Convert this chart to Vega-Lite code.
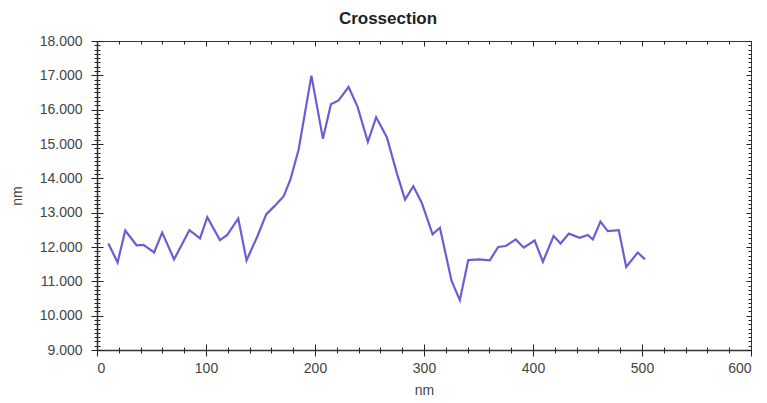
{
  "$schema": "https://vega.github.io/schema/vega-lite/v6.json",
  "autosize": "none",
  "width": 654,
  "height": 309,
  "padding": {"left": 97, "top": 41, "right": 16, "bottom": 53},
  "background": "white",
  "title": {"text": "Crossection", "font": "Liberation Sans", "fontSize": 17, "fontWeight": "bold", "color": "#222", "offset": 6, "dx": -36},
  "config": {
    "view": {"stroke": null},
    "axis": {"labelFont": "Liberation Sans", "titleFont": "Liberation Sans", "labelFontSize": 14, "titleFontSize": 14, "titleFontWeight": "normal", "labelColor": "#444", "titleColor": "#444", "domainColor": "#333", "tickColor": "#222", "grid": false}
  },
  "data": {"values": [
    {"x": 10.4, "y": 12.10}, {"x": 18.9, "y": 11.55}, {"x": 25.9, "y": 12.48}, {"x": 36.3, "y": 12.05},
    {"x": 42.7, "y": 12.06}, {"x": 52.4, "y": 11.84}, {"x": 59.8, "y": 12.42}, {"x": 70.7, "y": 11.64},
    {"x": 84.8, "y": 12.49}, {"x": 94.5, "y": 12.25}, {"x": 101.2, "y": 12.87}, {"x": 112.8, "y": 12.20},
    {"x": 119.5, "y": 12.35}, {"x": 129.6, "y": 12.83}, {"x": 137.2, "y": 11.61}, {"x": 147.0, "y": 12.30},
    {"x": 155.2, "y": 12.95}, {"x": 162.8, "y": 13.19}, {"x": 171.3, "y": 13.48}, {"x": 177.4, "y": 13.96},
    {"x": 185.0, "y": 14.84}, {"x": 196.7, "y": 16.99}, {"x": 207.3, "y": 15.15}, {"x": 214.6, "y": 16.16},
    {"x": 221.6, "y": 16.27}, {"x": 230.8, "y": 16.66}, {"x": 239.0, "y": 16.09}, {"x": 248.5, "y": 15.06},
    {"x": 256.1, "y": 15.78}, {"x": 265.9, "y": 15.20}, {"x": 275.0, "y": 14.16}, {"x": 282.6, "y": 13.38},
    {"x": 290.2, "y": 13.77}, {"x": 297.9, "y": 13.29}, {"x": 307.9, "y": 12.37}, {"x": 314.6, "y": 12.56},
    {"x": 325.3, "y": 11.01}, {"x": 332.9, "y": 10.45}, {"x": 340.6, "y": 11.62}, {"x": 350.6, "y": 11.64},
    {"x": 360.4, "y": 11.61}, {"x": 368.0, "y": 12.00}, {"x": 375.0, "y": 12.03}, {"x": 384.2, "y": 12.22},
    {"x": 391.5, "y": 11.98}, {"x": 401.5, "y": 12.19}, {"x": 409.1, "y": 11.57}, {"x": 418.9, "y": 12.32},
    {"x": 425.3, "y": 12.10}, {"x": 432.9, "y": 12.39}, {"x": 442.7, "y": 12.27}, {"x": 450.3, "y": 12.35},
    {"x": 454.9, "y": 12.22}, {"x": 461.9, "y": 12.74}, {"x": 468.6, "y": 12.46}, {"x": 478.7, "y": 12.49},
    {"x": 485.5, "y": 11.42}, {"x": 496.1, "y": 11.84}, {"x": 502.8, "y": 11.64}
  ]},
  "resolve": {"axis": {"x": "independent", "y": "independent"}},
  "layer": [
    {
      "mark": {"type": "line", "opacity": 0},
      "encoding": {
        "x": {"field": "x", "type": "quantitative", "scale": {"domain": [0, 600], "nice": false}, "axis": {"orient": "bottom", "values": [0,20,40,60,80,100,120,140,160,180,200,220,240,260,280,300,320,340,360,380,400,420,440,460,480,500,520,540,560,580,600], "labels": false, "domain": false, "tickSize": 3, "title": null}},
        "y": {"field": "y", "type": "quantitative", "scale": {"domain": [9, 18], "nice": false, "zero": false}, "axis": {"orient": "left", "values": [9,9.125,9.25,9.375,9.5,9.625,9.75,9.875,10,10.125,10.25,10.375,10.5,10.625,10.75,10.875,11,11.125,11.25,11.375,11.5,11.625,11.75,11.875,12,12.125,12.25,12.375,12.5,12.625,12.75,12.875,13,13.125,13.25,13.375,13.5,13.625,13.75,13.875,14,14.125,14.25,14.375,14.5,14.625,14.75,14.875,15,15.125,15.25,15.375,15.5,15.625,15.75,15.875,16,16.125,16.25,16.375,16.5,16.625,16.75,16.875,17,17.125,17.25,17.375,17.5,17.625,17.75,17.875,18], "labels": false, "domain": false, "tickSize": 3, "title": null}}
      }
    },
    {
      "mark": {"type": "line", "opacity": 0},
      "encoding": {
        "x": {"field": "x", "type": "quantitative", "scale": {"domain": [0, 600], "nice": false}, "axis": {"orient": "bottom", "values": [0,20,40,60,80,100,120,140,160,180,200,220,240,260,280,300,320,340,360,380,400,420,440,460,480,500,520,540,560,580,600], "labels": false, "domain": false, "tickSize": -3, "title": null}},
        "y": {"field": "y", "type": "quantitative", "scale": {"domain": [9, 18], "nice": false, "zero": false}, "axis": {"orient": "left", "values": [9,9.125,9.25,9.375,9.5,9.625,9.75,9.875,10,10.125,10.25,10.375,10.5,10.625,10.75,10.875,11,11.125,11.25,11.375,11.5,11.625,11.75,11.875,12,12.125,12.25,12.375,12.5,12.625,12.75,12.875,13,13.125,13.25,13.375,13.5,13.625,13.75,13.875,14,14.125,14.25,14.375,14.5,14.625,14.75,14.875,15,15.125,15.25,15.375,15.5,15.625,15.75,15.875,16,16.125,16.25,16.375,16.5,16.625,16.75,16.875,17,17.125,17.25,17.375,17.5,17.625,17.75,17.875,18], "labels": false, "domain": false, "tickSize": -3, "title": null}}
      }
    },
    {
      "mark": {"type": "line", "opacity": 0},
      "encoding": {
        "x": {"field": "x", "type": "quantitative", "scale": {"domain": [0, 600], "nice": false}, "axis": {"orient": "bottom", "values": [0,100,200,300,400,500,600], "labels": false, "domain": false, "tickSize": -6, "title": null}},
        "y": {"field": "y", "type": "quantitative", "scale": {"domain": [9, 18], "nice": false, "zero": false}, "axis": {"orient": "left", "values": [9,10,11,12,13,14,15,16,17,18], "labels": false, "domain": false, "tickSize": -6, "title": null}}
      }
    },
    {
      "mark": {"type": "line", "opacity": 0},
      "encoding": {
        "x": {"field": "x", "type": "quantitative", "scale": {"domain": [0, 600], "nice": false}, "axis": {"orient": "top", "values": [0,20,40,60,80,100,120,140,160,180,200,220,240,260,280,300,320,340,360,380,400,420,440,460,480,500,520,540,560,580,600], "labels": false, "domain": true, "tickSize": -3, "title": null}},
        "y": {"field": "y", "type": "quantitative", "scale": {"domain": [9, 18], "nice": false, "zero": false}, "axis": {"orient": "right", "values": [9,9.125,9.25,9.375,9.5,9.625,9.75,9.875,10,10.125,10.25,10.375,10.5,10.625,10.75,10.875,11,11.125,11.25,11.375,11.5,11.625,11.75,11.875,12,12.125,12.25,12.375,12.5,12.625,12.75,12.875,13,13.125,13.25,13.375,13.5,13.625,13.75,13.875,14,14.125,14.25,14.375,14.5,14.625,14.75,14.875,15,15.125,15.25,15.375,15.5,15.625,15.75,15.875,16,16.125,16.25,16.375,16.5,16.625,16.75,16.875,17,17.125,17.25,17.375,17.5,17.625,17.75,17.875,18], "labels": false, "domain": true, "tickSize": -3, "title": null}}
      }
    },
    {
      "mark": {"type": "line", "opacity": 0},
      "encoding": {
        "x": {"field": "x", "type": "quantitative", "scale": {"domain": [0, 600], "nice": false}, "axis": {"orient": "top", "values": [0,100,200,300,400,500,600], "labels": false, "domain": false, "tickSize": -5, "title": null}},
        "y": {"field": "y", "type": "quantitative", "scale": {"domain": [9, 18], "nice": false, "zero": false}, "axis": {"orient": "right", "values": [9,10,11,12,13,14,15,16,17,18], "labels": false, "domain": false, "tickSize": -5, "title": null}}
      }
    },
    {
      "mark": {"type": "line", "color": "#6a5fd2", "strokeWidth": 2.2},
      "encoding": {
        "x": {"field": "x", "type": "quantitative", "scale": {"domain": [0, 600], "nice": false}, "axis": {"orient": "bottom", "values": [0,100,200,300,400,500,600], "tickSize": 6, "labelPadding": 5, "title": "nm", "titlePadding": 8, "domainWidth": 1.5}},
        "y": {"field": "y", "type": "quantitative", "scale": {"domain": [9, 18], "nice": false, "zero": false}, "axis": {"orient": "left", "values": [9,10,11,12,13,14,15,16,17,18], "format": ".3f", "tickSize": 6, "labelPadding": 9, "title": "nm", "titlePadding": 15, "domainWidth": 1.5}}
      }
    }
  ]
}
